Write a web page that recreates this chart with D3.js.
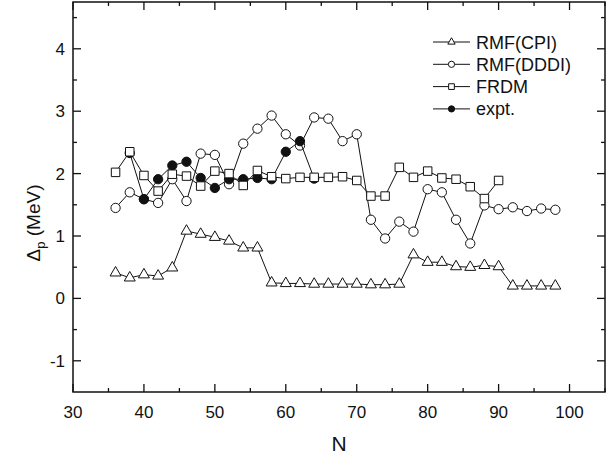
<!DOCTYPE html>
<html>
<head>
<meta charset="utf-8">
<script src="https://cdn.jsdelivr.net/npm/d3@7"></script>
<style>
  html, body { margin: 0; padding: 0; background: #fff; }
  svg { display: block; font-family: "Liberation Sans", Arial, sans-serif; }
</style>
</head>
<body>
<svg id="chart" width="606" height="459"></svg>
<script>
// Neutron numbers (even N) for each series
const nCPI  = [36,38,40,42,44,46,48,50,52,54,56,58,60,62,64,66,68,70,72,74,76,78,80,82,84,86,88,90,92,94,96,98];
const vCPI  = [0.41,0.33,0.38,0.36,0.49,1.08,1.03,0.98,0.92,0.81,0.81,0.25,0.24,0.24,0.23,0.23,0.23,0.23,0.22,0.22,0.23,0.70,0.58,0.58,0.51,0.50,0.53,0.51,0.20,0.20,0.20,0.20];

const nDDDI = [36,38,40,42,44,46,48,50,52,54,56,58,60,62,64,66,68,70,72,74,76,78,80,82,84,86,88,90,92,94,96,98];
const vDDDI = [1.45,1.70,1.59,1.53,1.91,1.56,2.32,2.30,1.83,2.48,2.72,2.93,2.63,2.45,2.90,2.88,2.52,2.63,1.26,0.96,1.23,1.07,1.75,1.70,1.26,0.88,1.49,1.43,1.46,1.40,1.44,1.42];

const nFRDM = [36,38,40,42,44,46,48,50,52,54,56,58,60,62,64,66,68,70,72,74,76,78,80,82,84,86,88,90];
const vFRDM = [2.02,2.35,1.97,1.72,1.99,1.96,1.80,2.04,2.00,1.81,2.05,1.95,1.92,1.94,1.94,1.94,1.95,1.89,1.64,1.64,2.10,1.94,2.04,1.93,1.91,1.79,1.60,1.89];

const nExpt = [38,40,42,44,46,48,50,52,54,56,58,60,62,64];
const vExpt = [2.33,1.59,1.91,2.13,2.19,1.93,1.77,1.91,1.91,1.93,1.91,2.35,2.52,1.92];

const seriesNames = ["RMF(CPI)", "RMF(DDDI)", "FRDM", "expt."];
const xTicks = [30,40,50,60,70,80,90,100];
const xMinorTicks = [35,45,55,65,75,85,95,105];
const yTicks = [-1,0,1,2,3,4];
const yMinorTicks = [-0.5,0.5,1.5,2.5,3.5,4.5];

const svg = d3.select("#chart");
const pLeft = 73, pRight = 605, pTop = 2, pBottom = 392;

const x = d3.scaleLinear().domain([30, 105]).range([pLeft, pRight]);
const y = d3.scaleLinear().domain([-1.5, 4.75]).range([pBottom, pTop]);

const ink = "#111";

// frame
svg.append("rect")
  .attr("x", pLeft).attr("y", pTop)
  .attr("width", pRight - pLeft).attr("height", pBottom - pTop)
  .attr("fill", "none").attr("stroke", ink).attr("stroke-width", 1.5);

// ticks on all four sides, pointing inward
const tickG = svg.append("g").attr("stroke", ink).attr("stroke-width", 1.3);
function xTick(v, len) {
  tickG.append("line").attr("x1", x(v)).attr("x2", x(v)).attr("y1", pBottom).attr("y2", pBottom - len);
  tickG.append("line").attr("x1", x(v)).attr("x2", x(v)).attr("y1", pTop).attr("y2", pTop + len);
}
function yTick(v, len) {
  tickG.append("line").attr("y1", y(v)).attr("y2", y(v)).attr("x1", pLeft).attr("x2", pLeft + len);
  tickG.append("line").attr("y1", y(v)).attr("y2", y(v)).attr("x1", pRight).attr("x2", pRight - len);
}
xTicks.forEach(v => xTick(v, 8));
xMinorTicks.forEach(v => xTick(v, 4));
yTicks.forEach(v => yTick(v, 8));
yMinorTicks.forEach(v => yTick(v, 4));

// tick labels
svg.append("g").selectAll("text").data(xTicks).join("text")
  .attr("x", d => x(d)).attr("y", 418)
  .attr("text-anchor", "middle").attr("font-size", 17).attr("fill", ink)
  .text(d => d);
svg.append("g").selectAll("text").data(yTicks).join("text")
  .attr("x", 65).attr("y", d => y(d) + 6)
  .attr("text-anchor", "end").attr("font-size", 17).attr("fill", ink)
  .text(d => d);

// axis titles
svg.append("text").attr("x", (pLeft + pRight) / 2).attr("y", 451)
  .attr("text-anchor", "middle").attr("font-size", 21).attr("fill", ink).text("N");
const yt = svg.append("text")
  .attr("transform", "translate(40,223) rotate(-90)")
  .attr("text-anchor", "middle").attr("font-size", 19).attr("fill", ink);
yt.append("tspan").text("Δ");
yt.append("tspan").attr("font-size", 13).attr("dy", 5).text("p");
yt.append("tspan").attr("dy", -5).text(" (MeV)");

// series definitions (legend order)
const series = [
  { name: seriesNames[0], n: nCPI,  v: vCPI,  shape: d3.symbolTriangle, size: 52, fill: "#fff", z: 0 },
  { name: seriesNames[1], n: nDDDI, v: vDDDI, shape: d3.symbolCircle,   size: 68, fill: "#fff", z: 1 },
  { name: seriesNames[2], n: nFRDM, v: vFRDM, shape: d3.symbolSquare,   size: 72, fill: "#fff", z: 3 },
  { name: seriesNames[3], n: nExpt, v: vExpt, shape: d3.symbolCircle,   size: 68, fill: ink,    z: 2 }
];

const line = d3.line().x(d => x(d[0])).y(d => y(d[1]));
const plot = svg.append("g");

// each series drawn as line + symbols; FRDM sits on top of the experimental points
series.slice().sort((a, b) => a.z - b.z).forEach(s => {
  const pts = s.n.map((n, i) => [n, s.v[i]]);
  const g = plot.append("g");
  g.append("path").attr("d", line(pts))
    .attr("fill", "none").attr("stroke", ink).attr("stroke-width", 1);
  g.append("g").selectAll("path").data(pts).join("path")
    .attr("transform", d => `translate(${x(d[0])},${y(d[1])})`)
    .attr("d", d3.symbol().type(s.shape).size(s.size))
    .attr("fill", s.fill).attr("stroke", ink).attr("stroke-width", 1);
});

// legend
const lg = svg.append("g");
series.forEach((s, i) => {
  const cy = 42 + i * 22.3;
  lg.append("line").attr("x1", 433).attr("x2", 470).attr("y1", cy).attr("y2", cy)
    .attr("stroke", ink).attr("stroke-width", 1);
  lg.append("path").attr("transform", `translate(451.5,${cy})`)
    .attr("d", d3.symbol().type(s.shape).size(s.size * 0.45))
    .attr("fill", s.fill).attr("stroke", ink).attr("stroke-width", 1);
  lg.append("text").attr("x", 476).attr("y", cy + 6.5)
    .attr("font-size", 18).attr("fill", ink).text(s.name);
});
</script>
</body>
</html>
